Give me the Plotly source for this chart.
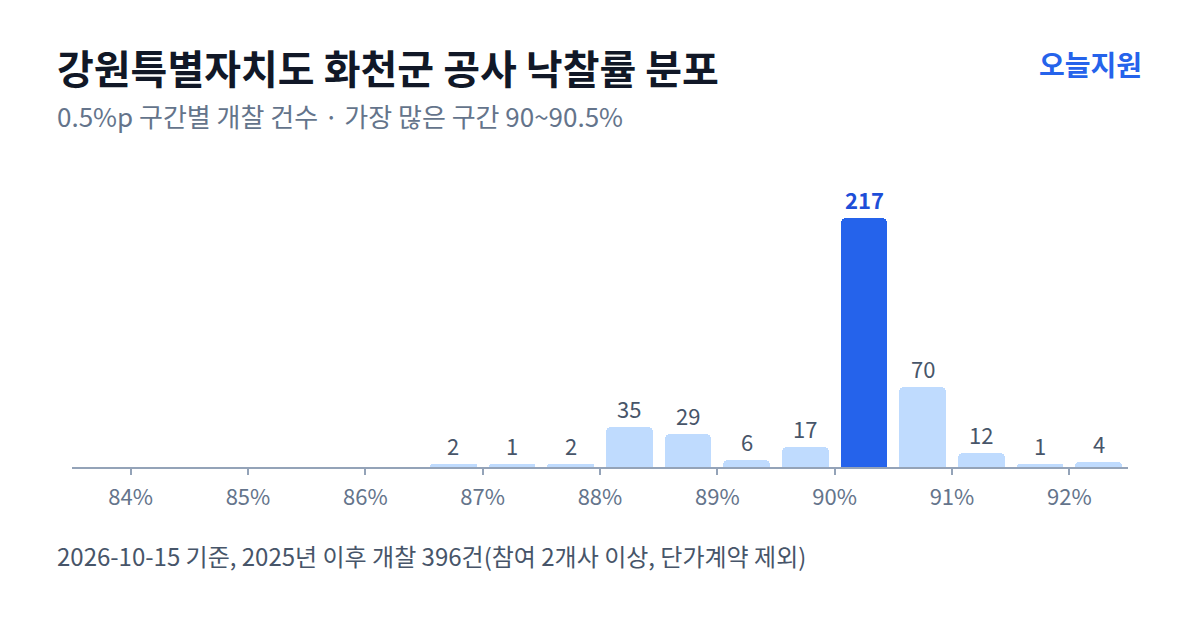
import plotly.graph_objects as go

# Data
bin_starts = [86.5, 87.0, 87.5, 88.0, 88.5, 89.0, 89.5, 90.0, 90.5, 91.0, 91.5, 92.0]
counts = [2, 1, 2, 35, 29, 6, 17, 217, 70, 12, 1, 4]
tick_values = [84, 85, 86, 87, 88, 89, 90, 91, 92]
tick_labels = ["84%", "85%", "86%", "87%", "88%", "89%", "90%", "91%", "92%"]

title_text = "강원특별자치도 화천군 공사 낙찰률 분포"
subtitle_text = "0.5%p 구간별 개찰 건수 · 가장 많은 구간 90~90.5%"
brand_text = "오늘지원"
footer_text = "2026-10-15 기준, 2025년 이후 개찰 396건(참여 2개사 이상, 단가계약 제외)"

FONT = "Noto Sans CJK KR"
W, H = 1200, 630
L, R, T, B = 72, 72, 180, 163
PW, PH = W - L - R, H - T - B

centers = [s + 0.25 for s in bin_starts]
max_c = max(counts)
colors = ["#2563eb" if c == max_c else "#bfdbfe" for c in counts]
display = [max(c, 2.6) for c in counts]

fig = go.Figure()
fig.add_trace(go.Bar(
    x=centers, y=display, width=0.4,
    marker=dict(color=colors, cornerradius=5, line=dict(width=0)),
    hoverinfo="skip",
))

def px_x(px):
    return (px - L) / PW

def px_y(py):
    return (H - B - py) / PH

ann = []
for cx, c, d in zip(centers, counts, display):
    hi = c == max_c
    ann.append(dict(
        x=cx, y=d, xref="x", yref="y", text=f"<b>{c}</b>" if hi else str(c),
        showarrow=False, yanchor="bottom", yshift=1,
        font=dict(family=FONT, size=22, color="#1d4ed8" if hi else "#475569"),
    ))

ann += [
    dict(x=px_x(55), y=px_y(67), xref="paper", yref="paper", text=f"<b>{title_text}</b>",
         showarrow=False, xanchor="left", yanchor="middle",
         font=dict(family=FONT, size=40, color="#111827")),
    dict(x=px_x(55), y=px_y(115), xref="paper", yref="paper", text=subtitle_text,
         showarrow=False, xanchor="left", yanchor="middle",
         font=dict(family=FONT, size=26, color="#64748b")),
    dict(x=px_x(1144), y=px_y(64), xref="paper", yref="paper", text=f"<b>{brand_text}</b>",
         showarrow=False, xanchor="right", yanchor="middle",
         font=dict(family=FONT, size=28, color="#2563eb")),
    dict(x=px_x(55), y=px_y(555), xref="paper", yref="paper", text=footer_text,
         showarrow=False, xanchor="left", yanchor="middle",
         font=dict(family=FONT, size=24, color="#475569")),
]

fig.update_layout(
    width=W, height=H,
    margin=dict(l=L, r=R, t=T, b=B),
    paper_bgcolor="white", plot_bgcolor="white",
    showlegend=False, bargap=0,
    annotations=ann,
    xaxis=dict(range=[83.5, 92.5], tickvals=tick_values, ticktext=tick_labels,
               showgrid=False, zeroline=False, showline=True, linecolor="#94a3b8", linewidth=2,
               ticks="outside", ticklen=6, tickwidth=2, tickcolor="#94a3b8", ticklabelstandoff=4,
               tickfont=dict(family=FONT, size=22, color="#64748b"), fixedrange=True),
    yaxis=dict(range=[0, 250], visible=False, fixedrange=True),
)

fig.write_html("out.html", config={"displayModeBar": False})
